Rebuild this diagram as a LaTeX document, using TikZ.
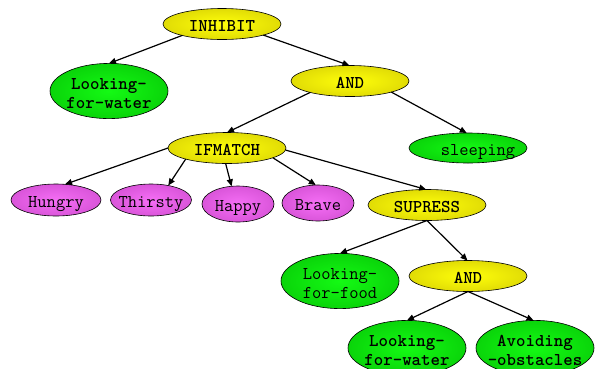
\documentclass[tikz,border=0pt]{standalone}
\usepackage{fontspec}
\usetikzlibrary{shapes.geometric,arrows.meta}
\definecolor{ycen}{RGB}{255,255,10}
\definecolor{yedge}{RGB}{195,185,0}
\definecolor{gcen}{RGB}{20,250,20}
\definecolor{gedge}{RGB}{0,175,0}
\definecolor{mcen}{RGB}{245,110,245}
\definecolor{medge}{RGB}{190,60,190}
\pgfdeclareradialshading{yshade}{\pgfpointorigin}{color(0bp)=(ycen); color(50bp)=(yedge); color(75bp)=(yedge)}
\pgfdeclareradialshading{gshade}{\pgfpointorigin}{color(0bp)=(gcen); color(50bp)=(gedge); color(75bp)=(gedge)}
\pgfdeclareradialshading{mshade}{\pgfpointorigin}{color(0bp)=(mcen); color(50bp)=(medge); color(75bp)=(medge)}
\newcommand{\nlbl}[1]{\makebox[0pt]{\raisebox{-4pt}[\height][\depth]{\begin{tabular}{@{}c@{}}#1\end{tabular}}}}
\tikzset{
  ell/.style={ellipse, draw=black, line width=0.6pt, inner sep=0pt, outer sep=0pt,
    font=\ttfamily\fontsize{18}{19.5}\selectfont},
  yel/.style={ell, shading=yshade, minimum width=118pt, minimum height=31pt,
    font=\ttfamily\bfseries\fontsize{18}{19.5}\selectfont},
  grn/.style={ell, shading=gshade, minimum width=118pt},
  grnbig/.style={grn, minimum height=52pt},
  boldtxt/.style={font=\ttfamily\bfseries\fontsize{18}{19.5}\selectfont},
  mag/.style={ell, shading=mshade},
  edge/.style={draw=black, line width=1.2pt, -{Triangle[length=7pt,width=6pt]}},
}
\begin{document}
\begin{tikzpicture}[x=1pt,y=-1pt]
\useasboundingbox (0,0) rectangle (595,368);
\clip (0,0) rectangle (595,368);
\node[yel] (inh) at (222,24) {\nlbl{INHIBIT}};
\node[grnbig, boldtxt] (lfw1) at (109,91) {\nlbl{Looking-\\for-water}};
\node[yel] (and1) at (350,81) {\nlbl{AND}};
\node[grn, minimum height=30pt] (slp) at (468,148) {\nlbl{\hspace*{20pt}sleeping}};
\node[yel] (ifm) at (227,148) {\nlbl{IFMATCH}};
\node[mag, minimum width=90pt, minimum height=32pt] (hun) at (56,200) {\nlbl{Hungry}};
\node[mag, minimum width=81pt, minimum height=32pt] (thi) at (151,200) {\nlbl{Thirsty}};
\node[mag, minimum width=72pt, minimum height=36pt] (hap) at (238,204) {\nlbl{Happy}};
\node[mag, minimum width=72pt, minimum height=36pt] (brv) at (318,203) {\nlbl{Brave}};
\node[yel] (sup) at (427,205) {\nlbl{SUPRESS}};
\node[grnbig] (lff) at (340,281) {\nlbl{Looking-\\for-food}};
\node[yel] (and2) at (468,276) {\nlbl{AND}};
\node[grnbig, boldtxt] (lfw2) at (407,348) {\nlbl{Looking-\\for-water}};
\node[grnbig, boldtxt] (avo) at (535,348) {\nlbl{Avoiding\\-obstacles}};
\draw[edge] (inh.196) -- (lfw1.90);
\draw[edge] (inh.345) -- (and1.92);
\draw[edge] (and1.196) -- (ifm.90);
\draw[edge] (and1.345) -- (slp.95);
\draw[edge] (ifm.180) -- (hun.60);
\draw[edge] (ifm.195) -- (thi.40);
\draw[edge] (ifm.265) -- (hap.110);
\draw[edge] (ifm.348) -- (brv.97);
\draw[edge] (ifm.358) -- (sup.93);
\draw[edge] (sup.270) -- (lff.90);
\draw[edge] (sup.270) -- (and2.92);
\draw[edge] (and2.270) -- (lfw2.90);
\draw[edge] (and2.270) -- (avo.93);
\end{tikzpicture}
\end{document}
